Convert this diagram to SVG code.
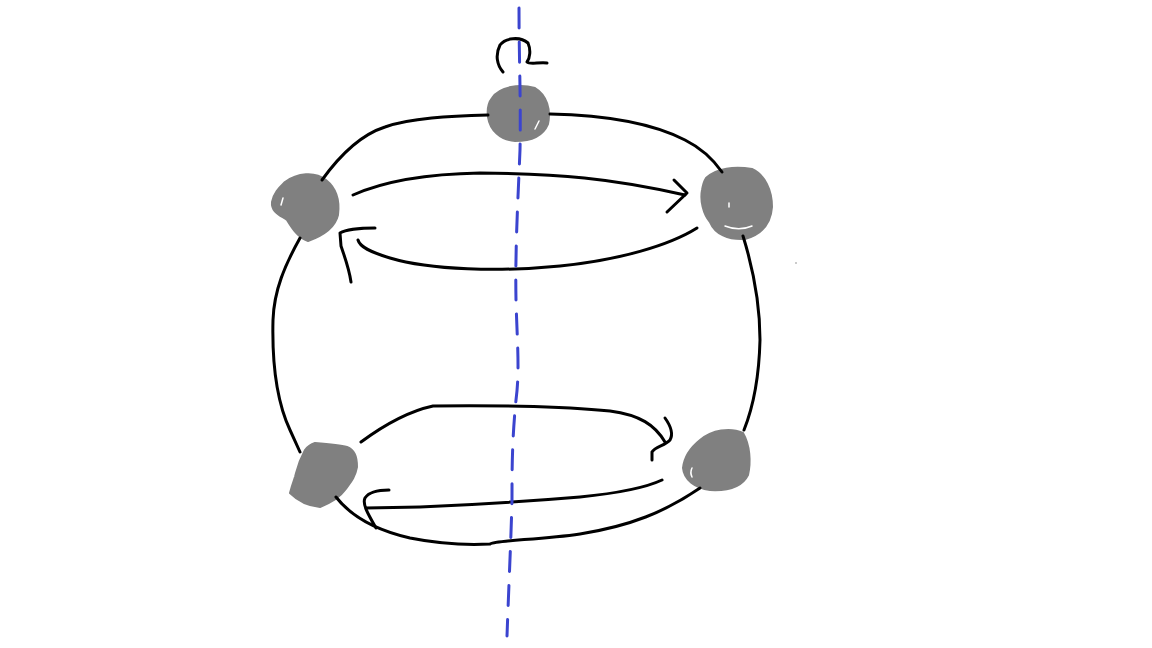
<svg xmlns="http://www.w3.org/2000/svg" width="1152" height="648" viewBox="0 0 1152 648">
<style>
.ln{fill:none;stroke:#000;stroke-width:3;stroke-linecap:round;stroke-linejoin:round}
.ax{fill:none;stroke:#3b44cf;stroke-width:3;stroke-linecap:round;stroke-dasharray:20 14}
.dot{fill:#808080;stroke:#808080;stroke-width:2}
.hl{fill:none;stroke:#fff;stroke-width:1.5;stroke-linecap:round}
</style>
<rect width="1152" height="648" fill="#fff"/>
<g id="node-top">
<path class="dot" d="M492,98 C500,86 520,84 535,88 C547,95 551,110 548,124 C543,136 530,141 515,141 C500,140 490,130 488,117 C487,109 488,103 492,98 Z"/>
<path class="hl" d="M539,121 L535,129"/>
</g>
<g id="node-left-upper">
<path class="dot" d="M285,182 C297,173 315,171 326,180 C336,188 340,200 338,215 C335,228 322,236 308,241 C298,238 292,228 287,220 C280,215 271,212 272,202 C274,192 280,187 285,182 Z"/>
<path class="hl" d="M283,198 L281,205"/>
</g>
<g id="node-right-upper">
<path class="dot" d="M706,178 C716,168 735,166 752,169 C765,175 772,190 772,207 C771,222 763,234 745,239 C728,240 715,234 710,222 C703,214 700,200 702,190 C703,184 704,181 706,178 Z"/>
<path class="hl" d="M725,226 C735,230 745,229 752,226"/>
<path class="hl" d="M729,203 L729,207"/>
</g>
<g id="node-left-lower">
<path class="dot" d="M315,443 C328,444 340,445 347,447 C354,450 357,455 357,467 C355,478 350,483 345,490 C340,497 333,502 320,507 C310,506 300,503 290,493 C292,485 294,480 295,477 C297,470 298,463 305,450 C308,446 312,444 315,443 Z"/>
</g>
<g id="node-right-lower">
<path class="dot" d="M700,440 C712,430 730,427 743,433 C750,445 751,462 748,475 C742,487 728,491 710,490 C695,488 684,480 683,468 C684,458 690,448 700,440 Z"/>
<path class="hl" d="M692,468 C690,472 691,475 692,477"/>
</g>
<g id="connectors">
<path class="ln" d="M488,115 C450,116 410,118 385,127 C360,135 340,155 322,180"/>
<path class="ln" d="M550,114 C600,115 650,122 685,140 C705,150 715,162 722,172"/>
<path class="ln" d="M300,238 C285,265 274,290 273,320 C272,360 276,400 290,430 L300,452"/>
<path class="ln" d="M743,236 C752,265 760,300 760,340 C759,380 752,410 744,430"/>
<path class="ln" d="M336,497 C350,515 375,530 410,538 C440,544 470,545 490,544 C495,540 540,540 580,534 C630,526 665,512 700,488"/>
<path class="ln" d="M353,195 C380,183 420,174 480,173 C560,174 610,178 685,195"/>
<path class="ln" d="M674,180 L687,193 L667,212"/>
<path class="ln" d="M697,228 C670,245 620,260 560,266 C500,272 430,270 390,258 C370,252 360,247 358,240"/>
<path class="ln" d="M375,228 C360,228 345,230 340,233 L341,246 C345,258 349,268 351,282"/>
<path class="ln" d="M361,442 C380,428 405,412 433,406 C480,405 560,406 610,411 C640,415 655,425 665,442"/>
<path class="ln" d="M665,418 C670,425 674,433 670,440 C665,446 655,446 652,452 L652,460"/>
<path class="ln" d="M662,480 C645,488 620,493 580,497 C520,502 470,505 420,507 L366,508"/>
<path class="ln" d="M389,490 C378,490 369,492 365,498 C362,504 368,514 376,528"/>
<path class="ln" d="M503,72 C497,65 495,55 500,45 C505,38 520,36 528,43 C531,50 530,58 527,62 C530,65 538,62 547,63"/>
<path class="ax" d="M519,8 C519,60 521,100 520,150 C518,200 515,250 516,300 C517,340 520,370 516,400 C512,440 512,470 512,500 C511,540 509,580 507,636"/>
</g>
<circle cx="796" cy="263" r="0.8" fill="#888"/>
</svg>
